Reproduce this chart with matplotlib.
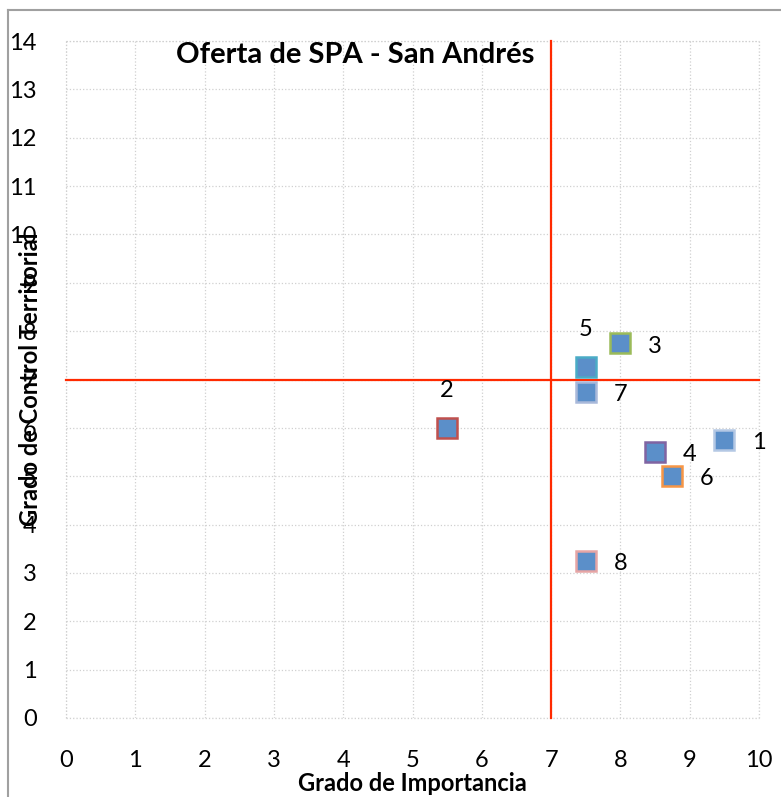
import matplotlib
matplotlib.use("Agg")
import matplotlib.pyplot as plt
from matplotlib.lines import Line2D

# datos
etiquetas = ["1", "2", "3", "4", "5", "6", "7", "8"]
importancia = [9.5, 5.5, 8.0, 8.5, 7.5, 8.75, 7.5, 7.5]
control = [5.75, 6.0, 7.75, 5.5, 7.25, 5.0, 6.75, 3.25]
bordes = ["#B4C8E4", "#C0504D", "#9BBB59", "#8064A2", "#4BACC6", "#F79646", "#A9B9DA", "#E6A5A5"]
# posicion de la etiqueta: derecha o arriba
pos_etiqueta = ["r", "u", "r", "r", "u", "r", "r", "r"]

linea_v_x = [7, 7]
linea_v_y = [0, 14]
linea_h_x = [0, 10]
linea_h_y = [7, 7]

plt.rcParams["font.family"] = ["Lato", "DejaVu Sans"]

fig = plt.figure(figsize=(7.81, 7.97), dpi=100)
ax = fig.add_axes([66 / 781, 1 - 718 / 797, 693 / 781, 677 / 797])

ax.set_xlim(0, 10)
ax.set_ylim(0, 14)
ax.set_xticks(range(0, 11))
ax.set_yticks(range(0, 15))

for s in ax.spines.values():
    s.set_visible(False)
ax.grid(True, linestyle=":", color="#D0D0D0", linewidth=0.9)
for v in [0, 10]:
    ax.axvline(v, linestyle=":", color="#D0D0D0", linewidth=0.9, clip_on=False)
for v in [0, 14]:
    ax.axhline(v, linestyle=":", color="#D0D0D0", linewidth=0.9, clip_on=False)
ax.set_axisbelow(True)
ax.tick_params(length=0, labelsize=17)
ax.tick_params(axis="y", pad=21)
ax.tick_params(axis="x", pad=23)

ax.plot(linea_v_x, linea_v_y, color="#FF2A00", linewidth=1.6, clip_on=False, zorder=2)
ax.plot(linea_h_x, linea_h_y, color="#FF2A00", linewidth=1.6, clip_on=False, zorder=2)

for i in range(len(etiquetas)):
    ax.plot(importancia[i], control[i], marker="s", markersize=14, markerfacecolor="#5B8FC9",
            markeredgecolor=bordes[i], markeredgewidth=1.8, linestyle="none", zorder=3)
    if pos_etiqueta[i] == "r":
        ax.annotate(etiquetas[i], (importancia[i], control[i]), xytext=(25, -2),
                    textcoords="offset points", fontsize=17, ha="center", va="center")
    else:
        ax.annotate(etiquetas[i], (importancia[i], control[i]), xytext=(0, 27),
                    textcoords="offset points", fontsize=17, ha="center", va="center")

ax.text(0.417, 0.979, "Oferta de SPA - San Andrés", transform=ax.transAxes,
        fontsize=21, fontweight="bold", ha="center", va="center")

ax.set_xlabel("Grado de Importancia", fontsize=17, fontweight="bold")
ax.xaxis.set_label_coords(0.5, -0.08)
ax.set_ylabel("Grado de Control Territorial", fontsize=17, fontweight="bold")
ax.yaxis.set_label_coords(-0.035, 0.5)

# marco gris de la figura
fig.add_artist(Line2D([8 / 781, 8 / 781], [0, 1 - 10 / 797], color="#A0A0A0", linewidth=1.5))
fig.add_artist(Line2D([8 / 781, 1], [1 - 10 / 797, 1 - 10 / 797], color="#A0A0A0", linewidth=1.5))

fig.savefig("out.png", dpi=100)
